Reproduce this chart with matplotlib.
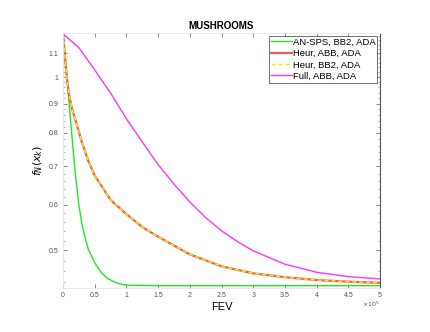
import matplotlib
matplotlib.use("Agg")
import matplotlib.pyplot as plt
import numpy as np
from matplotlib.ticker import FixedLocator, FixedFormatter, NullFormatter

plt.rcParams['font.family'] = ['Liberation Sans', 'DejaVu Sans']

# FEV in units of 1e5
x_green = [0, 0.05, 0.1, 0.15, 0.2, 0.25, 0.3, 0.35, 0.4, 0.5, 0.6, 0.7, 0.8, 0.9, 1.0, 1.5, 2.0, 3.0, 4.0, 5.0]
y_green = [1.19, 1.03, 0.89, 0.77, 0.67, 0.60, 0.555, 0.525, 0.502, 0.476, 0.458, 0.447, 0.441, 0.437, 0.435, 0.434, 0.434, 0.434, 0.434, 0.434]

x_heur = [0, 0.025, 0.05, 0.075, 0.1, 0.15, 0.2, 0.3, 0.4, 0.5, 0.75, 1.0, 1.25, 1.5, 2.0, 2.5, 3.0, 3.5, 4.0, 4.5, 5.0]
y_heur = [1.19, 1.11, 1.03, 0.97, 0.925, 0.875, 0.84, 0.77, 0.715, 0.675, 0.612, 0.578, 0.549, 0.528, 0.492, 0.469, 0.456, 0.449, 0.444, 0.441, 0.439]

x_full = [0, 0.25, 0.5, 0.75, 1.0, 1.25, 1.5, 1.75, 2.0, 2.25, 2.5, 2.75, 3.0, 3.5, 4.0, 4.5, 5.0]
y_full = [1.19, 1.126, 1.03, 0.939, 0.847, 0.772, 0.705, 0.652, 0.607, 0.570, 0.541, 0.518, 0.499, 0.473, 0.458, 0.450, 0.446]

labels = ["AN-SPS, BB2, ADA", "Heur, ABB, ADA", "Heur, BB2, ADA", "Full, ABB, ADA"]
xticks = [0, 0.5, 1, 1.5, 2, 2.5, 3, 3.5, 4, 4.5, 5]
xticklabels = ['0', '0.5', '1', '1.5', '2', '2.5', '3', '3.5', '4', '4.5', '5']
yticks = [0.5, 0.6, 0.7, 0.8, 0.9, 1.0, 1.1]
yticklabels = ['0.5', '0.6', '0.7', '0.8', '0.9', '1', '1.1']

fig = plt.figure(figsize=(4.3, 3.32), dpi=100)
ax = fig.add_axes([63 / 430, 1 - 288 / 332, 317 / 430, 255 / 332])

ax.plot(x_green, y_green, color='#22e622', lw=1.0, label=labels[0])
ax.plot(x_heur, y_heur, color='#e06060', lw=1.6, label=labels[1])
ax.plot(x_heur, y_heur, color='#ffee00', lw=1.0, ls=(0, (3, 2)), label=labels[2])
ax.plot(x_full, y_full, color='#ff33ff', lw=1.0, label=labels[3])

ax.set_yscale('log')
ax.set_xlim(0, 5)
ax.set_ylim(0.430, 1.194)
ax.yaxis.set_major_locator(FixedLocator(yticks))
ax.yaxis.set_major_formatter(FixedFormatter(yticklabels))
ax.yaxis.set_minor_locator(FixedLocator(np.arange(0.44, 1.19, 0.02)))
ax.yaxis.set_minor_formatter(NullFormatter())
ax.set_xticks(xticks)
ax.set_xticklabels(xticklabels)

ax.tick_params(axis='both', which='both', direction='in', top=True, right=True,
               labelsize=5, labelcolor='#555555', color='#777777')
ax.tick_params(which='major', length=3, width=0.6)
ax.tick_params(which='minor', length=1.5, width=0.4)
ax.tick_params(axis='x', pad=3)

for side in ['left', 'bottom', 'top']:
    ax.spines[side].set_color('#e6e6e6')
    ax.spines[side].set_linewidth(0.6)
ax.spines['right'].set_color('#555555')
ax.spines['right'].set_linewidth(0.8)

ax.set_title('MUSHROOMS', fontsize=7, fontweight='bold', pad=3)
ax.set_xlabel('FEV', fontsize=8, labelpad=2)
ax.set_ylabel('$f_N(x_k)$', fontsize=8, labelpad=2)
ax.text(1.0, -0.045, r'$\times10^5$', transform=ax.transAxes, fontsize=4.5,
        color='#555555', ha='right', va='top')

leg = ax.legend(loc='upper right', fontsize=6.8, frameon=True, fancybox=False,
                handlelength=2.2, handletextpad=0.1, borderpad=0.2, labelspacing=0.25,
                borderaxespad=0.3)
leg.get_frame().set_edgecolor('#333333')
leg.get_frame().set_linewidth(0.6)

fig.savefig('out.png', dpi=100)
